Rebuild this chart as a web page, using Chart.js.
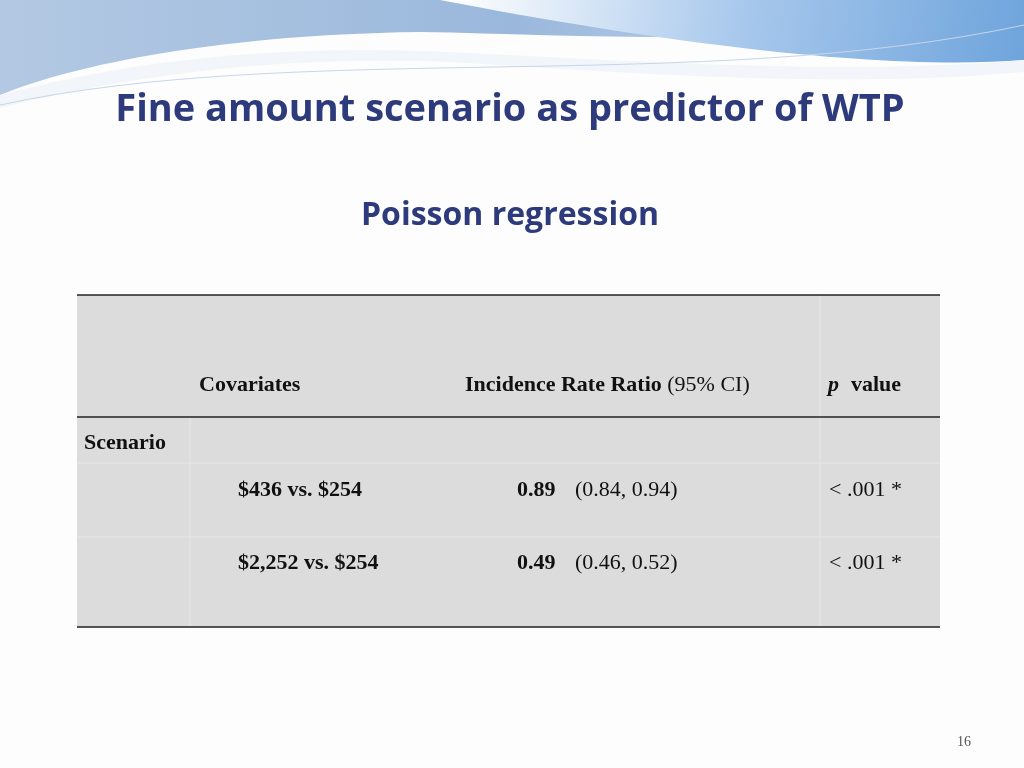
<!DOCTYPE html>
<html><head><meta charset="utf-8">
<script src="https://cdn.jsdelivr.net/npm/chart.js@4"></script>
<style>body{margin:0;background:#fdfdfd}canvas{display:block}</style>
</head><body>
<canvas id="c" width="1024" height="768"></canvas>
<script>
// slide text and table values
const title = "Fine amount scenario as predictor of WTP";
const subtitle = "Poisson regression";
const groupLabel = "Scenario";
const comparisons = ["$436 vs. $254", "$2,252 vs. $254"];
const irr = ["0.89", "0.49"];
const ci = ["(0.84, 0.94)", "(0.46, 0.52)"];
const pValues = ["< .001 *", "< .001 *"];
const pageNumber = "16";

const navy = "#2d3a7c";

const slidePlugin = {
  id: "slide",
  beforeDraw(chart) {
    const ctx = chart.ctx;
    ctx.save();
    ctx.fillStyle = "#fdfdfd";
    ctx.fillRect(0, 0, 1024, 768);
    // header waves
    let g = ctx.createLinearGradient(0, 0, 1024, 0);
    g.addColorStop(0, "#b3c9e3");
    g.addColorStop(0.5, "#9ab8dc");
    g.addColorStop(1, "#d3e1f0");
    ctx.fillStyle = g;
    ctx.beginPath();
    ctx.moveTo(0, 0); ctx.lineTo(1024, 0); ctx.lineTo(1024, 10);
    ctx.bezierCurveTo(800, 50, 600, 35, 420, 32);
    ctx.bezierCurveTo(200, 35, 60, 70, 0, 95);
    ctx.closePath(); ctx.fill();
    g = ctx.createLinearGradient(450, 0, 1024, 80);
    g.addColorStop(0, "#ffffff");
    g.addColorStop(0.5, "#a8c8ec");
    g.addColorStop(1, "#6ea4dc");
    ctx.fillStyle = g;
    ctx.beginPath();
    ctx.moveTo(440, 0); ctx.lineTo(1024, 0); ctx.lineTo(1024, 60);
    ctx.bezierCurveTo(900, 70, 700, 50, 440, 0);
    ctx.fill();
    ctx.fillStyle = "#f2f6fb";
    ctx.beginPath();
    ctx.moveTo(0, 95);
    ctx.bezierCurveTo(150, 55, 300, 45, 450, 52);
    ctx.bezierCurveTo(650, 62, 850, 75, 1024, 60);
    ctx.lineTo(1024, 72);
    ctx.bezierCurveTo(850, 88, 650, 75, 450, 62);
    ctx.bezierCurveTo(300, 56, 150, 70, 0, 108);
    ctx.fill();
    ctx.strokeStyle = "#c7d6e8"; ctx.lineWidth = 1;
    ctx.beginPath(); ctx.moveTo(0, 105); ctx.bezierCurveTo(300, 40, 700, 95, 1024, 25); ctx.stroke();
    ctx.restore();
  },
  afterDraw(chart) {
    const ctx = chart.ctx;
    ctx.save();
    ctx.textBaseline = "middle";
    ctx.fillStyle = navy;
    ctx.textAlign = "center";
    ctx.font = "bold 38px 'Open Sans', sans-serif";
    ctx.fillText(title, 510, 110);
    ctx.font = "bold 32px 'Open Sans', sans-serif";
    ctx.fillText(subtitle, 510, 216);

    // table
    const L = 77, R = 940;
    ctx.fillStyle = "#dcdcdc";
    ctx.fillRect(L, 295, R - L, 332);
    ctx.strokeStyle = "#e8e8e8"; ctx.lineWidth = 1;
    [[190, 417, 627], [820, 295, 627]].forEach(([x, y0, y1]) => {
      ctx.beginPath(); ctx.moveTo(x, y0); ctx.lineTo(x, y1); ctx.stroke();
    });
    ctx.beginPath(); ctx.moveTo(L, 463); ctx.lineTo(R, 463); ctx.moveTo(L, 537); ctx.lineTo(R, 537); ctx.stroke();
    ctx.strokeStyle = "#222"; ctx.lineWidth = 1.5;
    [295, 417, 627].forEach(y => { ctx.beginPath(); ctx.moveTo(L, y); ctx.lineTo(R, y); ctx.stroke(); });

    ctx.fillStyle = "#111";
    ctx.textAlign = "left";
    const bold = "bold 22px 'Liberation Serif', 'Times New Roman', serif";
    const reg = "22px 'Liberation Serif', 'Times New Roman', serif";
    ctx.font = bold;
    ctx.fillText("Covariates", 199, 385);
    ctx.fillText("Incidence Rate Ratio", 465, 385);
    let w = ctx.measureText("Incidence Rate Ratio ").width;
    ctx.font = reg; ctx.fillText("(95% CI)", 465 + w, 385);
    ctx.font = "bold italic 22px 'Liberation Serif', serif";
    ctx.fillText("p", 828, 385);
    ctx.font = bold; ctx.fillText("value", 851, 385);
    ctx.fillText(groupLabel, 84, 443);
    const ys = [490, 563];
    comparisons.forEach((c, i) => {
      ctx.font = bold; ctx.fillText(c, 238, ys[i]);
      ctx.fillText(irr[i], 517, ys[i]);
      ctx.font = reg; ctx.fillText(ci[i], 575, ys[i]);
      ctx.fillText(pValues[i], 829, ys[i]);
    });
    ctx.fillStyle = "#555";
    ctx.font = "14px 'Liberation Serif', serif";
    ctx.fillText(pageNumber, 957, 742);
    ctx.restore();
  }
};

new Chart(document.getElementById("c"), {
  type: "bar",
  data: { labels: comparisons, datasets: [{ data: [], backgroundColor: "transparent" }] },
  options: {
    responsive: false, animation: false,
    plugins: { legend: { display: false }, tooltip: { enabled: false } },
    scales: { x: { display: false }, y: { display: false } }
  },
  plugins: [slidePlugin]
});
</script>
</body></html>
